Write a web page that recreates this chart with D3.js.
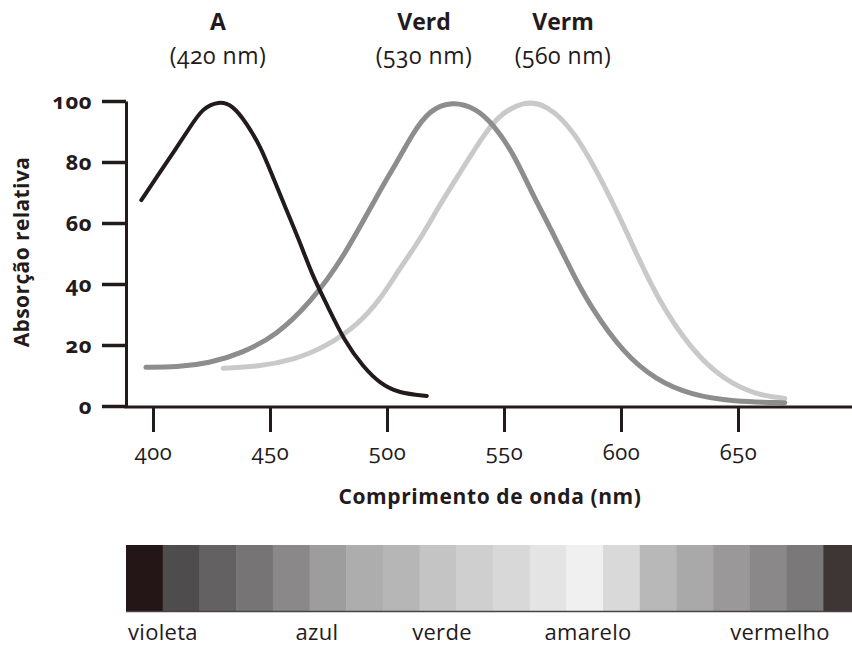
<!DOCTYPE html>
<html>
<head>
<meta charset="utf-8">
<script src="https://cdn.jsdelivr.net/npm/d3@7/dist/d3.min.js"></script>
<style>
  body { margin: 0; background: #fff; }
  svg text { font-family: "Open Sans", "Noto Sans", sans-serif; fill: #231a1b; font-variant-numeric: oldstyle-nums; }
</style>
</head>
<body>
<svg id="viz" width="852" height="649"></svg>
<script>
// ---- data ----
var xTicks = [400, 450, 500, 550, 600, 650];
var yTicks = [0, 20, 40, 60, 80, 100];

var pigmentNames = ["A", "Verd", "Verm"];
var pigmentPeaks = ["(420 nm)", "(530 nm)", "(560 nm)"];

var waveA = [395, 402, 409, 416, 421, 428, 434, 440, 446, 451, 457, 463, 468, 474, 482, 490, 497, 505, 517];
var absA  = [67.5, 75.5, 83.5, 91.6, 97.5, 100, 98.7, 92.7, 85, 75.5, 64.3, 53.3, 43, 33.7, 21, 12.7, 7.4, 4.2, 3.3];

var waveVerd = [397, 410, 424, 438, 453, 467, 481, 497, 504, 511, 518, 528, 538, 545, 554, 562, 571, 580, 587, 601, 615, 630, 648, 670];
var absVerd  = [12.7, 12.7, 14, 17.3, 23.3, 33.7, 48, 70.8, 79.6, 89.4, 97, 100, 97.6, 92.7, 83, 69.7, 56.6, 42.4, 32.6, 17.3, 8.5, 3.6, 1.4, 1.1];

var waveVerm = [430, 445, 460, 474, 488, 497, 505, 514, 522, 531, 540, 547, 558, 568, 580, 594, 604, 615, 630, 644, 658, 670];
var absVerm  = [12.4, 12.9, 15.1, 19.4, 27, 34.8, 44.6, 54.4, 65.3, 76.3, 87.2, 94.9, 100, 99, 90.5, 70.8, 54.4, 35.8, 18.4, 8.5, 3.6, 2.5];

var bandColors = ["#241516", "#4f4c4d", "#636162", "#767475", "#8a8889", "#9e9d9d", "#aeadad",
                  "#b7b6b6", "#c4c4c4", "#cfcfcf", "#d8d8d8", "#e4e4e4", "#f0f0f0", "#d9d9d9",
                  "#b9b8b8", "#aaa9a9", "#9a9898", "#8a8889", "#7a7879", "#3e3535"];
var bandNames = ["violeta", "azul", "verde", "amarelo", "vermelho"];

// ---- layout ----
var svg = d3.select("#viz");
var ink = "#231a1b";
var axisX0 = 126, axisY0 = 406;
var lineColors = [ink, "#8d8d8d", "#c9c9c9"];
var lineWidths = [4, 5, 5];
var headerX = [218, 424, 563];
var bandLabelX = [128, 317, 442, 588, 780];
var bandLabelAnchor = ["start", "middle", "middle", "middle", "middle"];

var x = d3.scaleLinear().domain([400, 650]).range([153, 738]);
var y = d3.scaleLinear().domain([0, 100]).range([406, 101]);

var series = [
    waveA.map(function (w, i) { return { w: w, v: absA[i] }; }),
    waveVerd.map(function (w, i) { return { w: w, v: absVerd[i] }; }),
    waveVerm.map(function (w, i) { return { w: w, v: absVerm[i] }; })
];

var line = d3.line()
    .x(function (d) { return x(d.w); })
    .y(function (d) { return y(d.v); })
    .curve(d3.curveBasis);

// curves: Verm under Verd under A
svg.append("g").selectAll("path")
    .data([2, 1, 0])
    .enter().append("path")
    .attr("d", function (i) { return line(series[i]); })
    .attr("fill", "none")
    .attr("stroke", function (i) { return lineColors[i]; })
    .attr("stroke-width", function (i) { return lineWidths[i]; })
    .attr("stroke-linecap", "round");

// y axis
var gy = svg.append("g")
    .attr("transform", "translate(" + axisX0 + ",0)")
    .call(d3.axisLeft(y).tickValues(yTicks).tickSize(24).tickSizeOuter(0).tickPadding(10));
gy.select(".domain").attr("stroke", ink).attr("stroke-width", 3);
gy.selectAll(".tick line").attr("stroke", ink).attr("stroke-width", 3.5);
gy.selectAll(".tick text")
    .attr("font-size", 22).attr("font-weight", 700).attr("letter-spacing", 0.5)
    .attr("font-family", null).attr("fill", null);

// x axis
var gx = svg.append("g")
    .attr("transform", "translate(0," + (axisY0 + 1) + ")")
    .call(d3.axisBottom(x).tickValues(xTicks).tickSize(25).tickSizeOuter(0).tickPadding(12));
gx.select(".domain").remove();
gx.append("line")
    .attr("x1", axisX0 - 1.5).attr("x2", 852)
    .attr("stroke", ink).attr("stroke-width", 3);
gx.selectAll(".tick line").attr("stroke", ink).attr("stroke-width", 3);
gx.selectAll(".tick text")
    .attr("font-size", 22).attr("letter-spacing", 0.5)
    .attr("font-family", null).attr("fill", null);

// axis titles
svg.append("text")
    .attr("x", 490).attr("y", 504)
    .attr("text-anchor", "middle")
    .attr("font-size", 21).attr("font-weight", 700).attr("letter-spacing", 0.6)
    .text("Comprimento de onda (nm)");

svg.append("text")
    .attr("transform", "translate(29,252) rotate(-90)")
    .attr("text-anchor", "middle")
    .attr("font-size", 21).attr("font-weight", 700).attr("letter-spacing", 0.4)
    .text("Absorção relativa");

// pigment headers
var heads = svg.append("g").selectAll("g")
    .data(pigmentNames)
    .enter().append("g")
    .attr("transform", function (d, i) { return "translate(" + headerX[i] + ",0)"; });
heads.append("text")
    .attr("y", 30).attr("text-anchor", "middle")
    .attr("font-size", 23).attr("font-weight", 700)
    .text(function (d) { return d; });
heads.append("text")
    .attr("y", 64).attr("text-anchor", "middle")
    .attr("font-size", 23).attr("letter-spacing", 0.5)
    .text(function (d, i) { return pigmentPeaks[i]; });

// spectrum strip
var band = d3.scaleBand()
    .domain(d3.range(bandColors.length))
    .range([axisX0, axisX0 + 36.7 * bandColors.length]);

svg.append("g").selectAll("rect")
    .data(bandColors)
    .enter().append("rect")
    .attr("x", function (d, i) { return band(i); })
    .attr("y", 545)
    .attr("width", band.bandwidth() + 0.5)
    .attr("height", 67)
    .attr("fill", function (d) { return d; });
svg.append("line")
    .attr("x1", axisX0).attr("x2", 852)
    .attr("y1", 611.5).attr("y2", 611.5)
    .attr("stroke", "#4a4243").attr("stroke-width", 1.5);

svg.append("g").selectAll("text")
    .data(bandNames)
    .enter().append("text")
    .attr("x", function (d, i) { return bandLabelX[i]; })
    .attr("y", 640)
    .attr("text-anchor", function (d, i) { return bandLabelAnchor[i]; })
    .attr("font-size", 22).attr("letter-spacing", 0.3)
    .text(function (d) { return d; });
</script>
</body>
</html>
